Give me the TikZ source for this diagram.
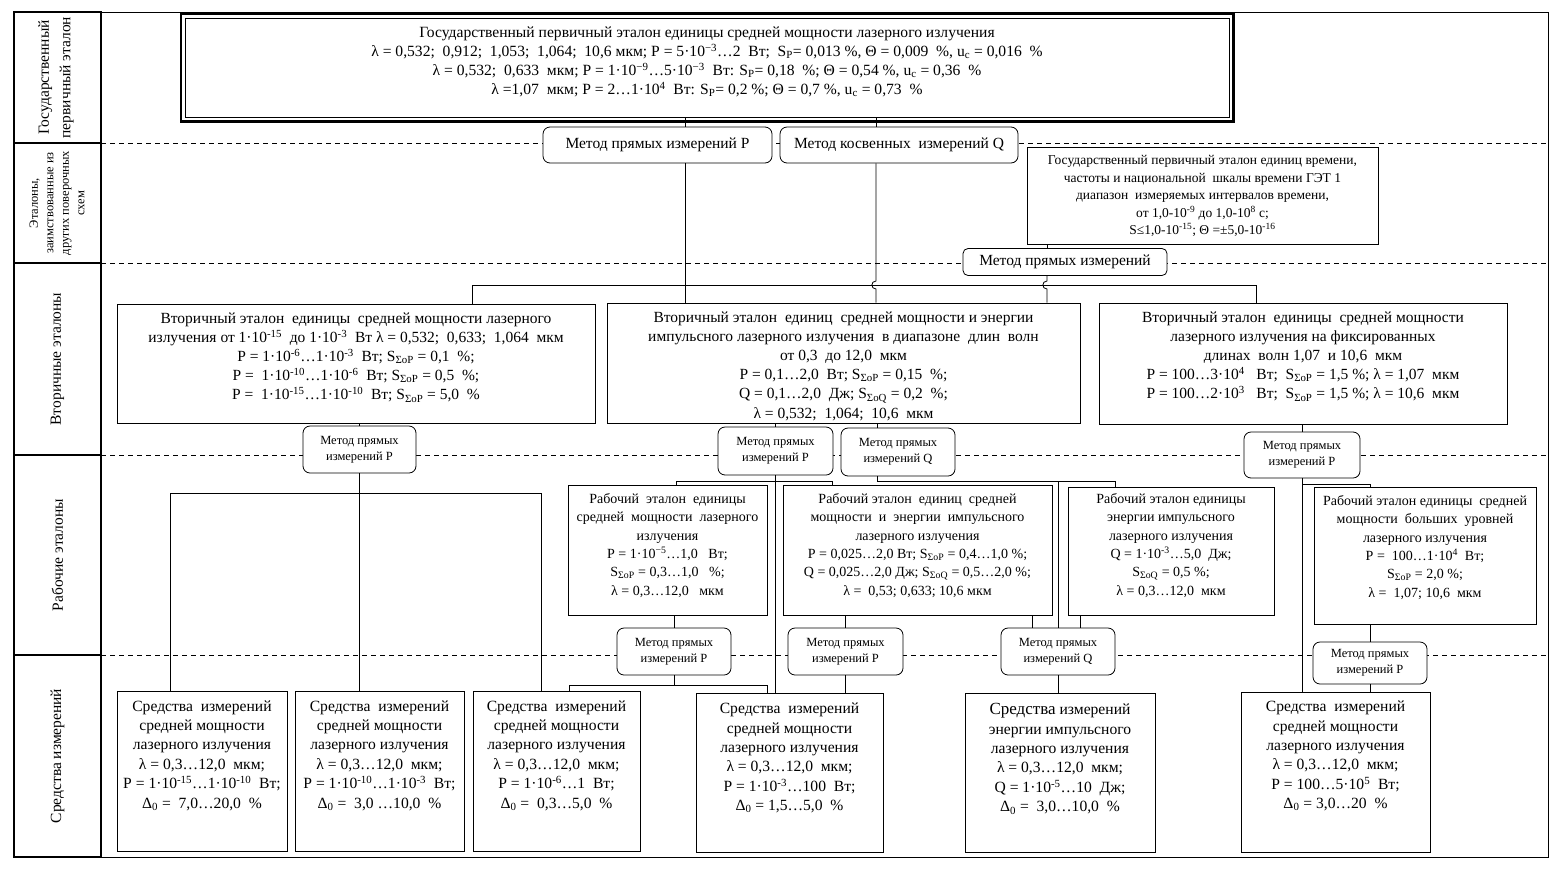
\documentclass[tikz,border=0pt]{standalone}
\usepackage{fontspec}
\setmainfont{Liberation Serif}
\newcommand{\bx}[4]{\parbox[c][#2][t]{#1}{\vspace*{#3}\centering #4\par}}
\newcommand{\supx}[1]{\textsuperscript{#1}}
\newcommand{\sop}{S\textsubscript{ΣoP}}
\newcommand{\soq}{S\textsubscript{ΣoQ}}
\newcommand{\spp}{S\textsubscript{P}}
\newcommand{\uc}{u\textsubscript{c}}
\newcommand{\dz}{Δ\textsubscript{0}}
\begin{document}
\begin{tikzpicture}[x=1pt,y=-1pt,
  every node/.style={inner sep=0pt},
  box/.style={draw, fill=white, line width=0.8pt},
  meth/.style={draw, fill=white, rounded corners=7pt, line width=0.8pt, align=center},
  conn/.style={line width=0.8pt},
  sep/.style={dash pattern=on 5pt off 4pt, line width=0.7pt},
  fT/.style={font=\fontsize{15.6}{19}\selectfont},
  fA/.style={font=\fontsize{15.6}{19.4}\selectfont},
  fB/.style={font=\fontsize{15.5}{19.2}\selectfont},
  fW/.style={font=\fontsize{14}{18.3}\selectfont},
  fG/.style={font=\fontsize{13.5}{17.5}\selectfont},
  fM/.style={font=\fontsize{12.5}{16}\selectfont},
  fL/.style={font=\fontsize{15.5}{21.5}\selectfont},
  fS/.style={font=\fontsize{12.5}{15.5}\selectfont},
]
\useasboundingbox (0,0) rectangle (1557,876);
\fill[white] (0,0) rectangle (1557,876);

% frame and left column
\draw[line width=0.8pt] (14,12) rectangle (1548,857);
\draw[sep] (101,143) -- (1548,143);
\draw[sep] (101,263) -- (1548,263);
\draw[sep] (101,455) -- (1548,455);
\draw[sep] (101,655) -- (1548,655);
\draw[line width=1.6pt] (14,12) rectangle (101,857);
\draw[line width=1.2pt] (14,143) -- (101,143);
\draw[line width=1.2pt] (14,263) -- (101,263);
\draw[line width=1.2pt] (14,455) -- (101,455);
\draw[line width=1.2pt] (14,655) -- (101,655);
\node[rotate=90, align=center, fL] (lab1) at (56,77.5) {Государственный\\первичный эталон};
\node[rotate=90, align=center, fS] (lab2) at (57,203) {Эталоны,\\заимствованные из\\других поверочных\\схем};
\node[rotate=90, fL] (lab3) at (57.5,359) {Вторичные эталоны};
\node[rotate=90, fL] (lab4) at (57.5,555) {Рабочие эталоны};
\node[rotate=90, fL] (lab5) at (57.5,756) {Средства измерений};

% top box
\node[box, fT] (top) at (707,67.5) {\bx{1044pt}{99pt}{9pt}{Государственный первичный эталон единицы средней мощности лазерного излучения\\
λ = 0,532;\ \ 0,912;\ \ 1,053;\ \ 1,064;\ \ 10,6 мкм; P = 5·10\supx{−3}…2\ \ Вт;\ \ \spp= 0,013 \%, Θ = 0,009\ \ \%, \uc{} = 0,016\ \ \%\\
λ = 0,532;\ \ 0,633\ \ мкм; P = 1·10\supx{−9}…5·10\supx{−3}\ \ Вт: \spp= 0,18\ \ \%; Θ = 0,54 \%, \uc{} = 0,36\ \ \%\\
λ =1,07\ \ мкм; P = 2…1·10\supx{4}\ \ Вт: \spp= 0,2 \%; Θ = 0,7 \%, \uc{} = 0,73\ \ \%}};
\draw[line width=2.2pt] ([xshift=-4pt,yshift=4pt]top.north west) rectangle ([xshift=4pt,yshift=-4pt]top.south east);

% row 2
\node[meth, fB, minimum width=229pt, minimum height=36pt] (mp) at (657.5,145) {Метод прямых измерений P};
\node[meth, fB, minimum width=238pt, minimum height=36pt] (mk) at (899,145) {Метод косвенных\ \ измерений Q};
\node[box, fG] (get) at (1202.5,195.5) {\bx{351pt}{97pt}{8.5pt}{Государственный первичный эталон единиц времени,\\
частоты и национальной\ \ шкалы времени ГЭТ 1\\
диапазон\ \ измеряемых интервалов времени,\\
от 1,0-10\supx{-9} до 1,0-10\supx{8} с;\\
S≤1,0-10\supx{-15}; Θ =±5,0-10\supx{-16}}};
\node[meth, fB, minimum width=204pt, minimum height=27pt, rounded corners=5pt] (mpi) at (1065,262) {Метод прямых измерений};

% secondary
\node[box, fB] (s1) at (356,363.5) {\bx{478pt}{119pt}{8.5pt}{Вторичный эталон\ \ единицы\ \ средней мощности лазерного\\
излучения от 1·10\supx{-15}\ \ до 1·10\supx{-3}\ \ Вт λ = 0,532;\ \ 0,633;\ \ 1,064\ \ мкм\\
P = 1·10\supx{-6}…1·10\supx{-3}\ \ Вт; \sop{} = 0,1\ \ \%;\\
P =\ \ 1·10\supx{-10}…1·10\supx{-6}\ \ Вт; \sop{} = 0,5\ \ \%;\\
P =\ \ 1·10\supx{-15}…1·10\supx{-10}\ \ Вт; \sop{} = 5,0\ \ \%}};
\node[box, fB] (s2) at (843.5,363) {\bx{473pt}{120pt}{8.5pt}{Вторичный эталон\ \ единиц\ \ средней мощности и энергии\\
импульсного лазерного излучения\ \ в диапазоне\ \ длин\ \ волн\\
от 0,3\ \ до 12,0\ \ мкм\\
P = 0,1…2,0\ \ Вт; \sop{} = 0,15\ \ \%;\\
Q = 0,1…2,0\ \ Дж; \soq{} = 0,2\ \ \%;\\
λ = 0,532;\ \ 1,064;\ \ 10,6\ \ мкм}};
\node[box, fB] (s3) at (1303,363.5) {\bx{408pt}{121pt}{8.5pt}{Вторичный эталон\ \ единицы\ \ средней мощности\\
лазерного излучения на фиксированных\\
длинах\ \ волн 1,07\ \ и 10,6\ \ мкм\\
P = 100…3·10\supx{4}\ \ \ Вт;\ \ \sop{} = 1,5 \%; λ = 1,07\ \ мкм\\
P = 100…2·10\supx{3}\ \ \ Вт;\ \ \sop{} = 1,5 \%; λ = 10,6\ \ мкм}};

% methods between secondary and working
\node[meth, fM, minimum width=113pt, minimum height=47pt] (m1) at (359.5,449.5) {Метод прямых\\измерений P};
\node[meth, fM, minimum width=115pt, minimum height=48pt] (m2) at (775.5,451) {Метод прямых\\измерений P};
\node[meth, fM, minimum width=114pt, minimum height=48pt] (m3) at (898,452) {Метод прямых\\измерений Q};
\node[meth, fM, minimum width=116pt, minimum height=46pt] (m4) at (1302,455) {Метод прямых\\измерений P};

% working
\node[box, fW] (w1) at (667.5,550) {\bx{199pt}{130pt}{8.5pt}{Рабочий\ \ эталон\ \ единицы\\
средней\ \ мощности\ \ лазерного\\
излучения\\
P = 1·10\supx{−5}…1,0\ \ \ Вт;\\
\sop{} = 0,3…1,0\ \ \ \%;\\
λ = 0,3…12,0\ \ \ мкм}};
\node[box, fW] (w2) at (917.5,550) {\bx{269pt}{130pt}{8.5pt}{Рабочий эталон\ \ единиц\ \ средней\\
мощности\ \ и\ \ энергии\ \ импульсного\\
лазерного излучения\\
P = 0,025…2,0 Вт; \sop{} = 0,4…1,0 \%;\\
Q = 0,025…2,0 Дж; \soq{} = 0,5…2,0 \%;\\
λ =\ \ 0,53; 0,633; 10,6 мкм}};
\node[box, fW] (w3) at (1171,551) {\bx{206pt}{128pt}{6.5pt}{Рабочий эталон единицы\\
энергии импульсного\\
лазерного излучения\\
Q = 1·10\supx{-3}…5,0\ \ Дж;\\
\soq{} = 0,5 \%;\\
λ = 0,3…12,0\ \ мкм}};
\node[box, fW] (w4) at (1425,555.5) {\bx{222pt}{137pt}{8.5pt}{Рабочий эталон единицы\ \ средней\\
мощности\ \ больших\ \ уровней\\
лазерного излучения\\
P =\ \ 100…1·10\supx{4}\ \ Вт;\\
\sop{} = 2,0 \%;\\
λ =\ \ 1,07; 10,6\ \ мкм}};

% methods between working and instruments
\node[meth, fM, minimum width=114pt, minimum height=47pt] (m5) at (674,651.5) {Метод прямых\\измерений P};
\node[meth, fM, minimum width=115pt, minimum height=47pt] (m6) at (845.5,651.5) {Метод прямых\\измерений P};
\node[meth, fM, minimum width=114pt, minimum height=47pt] (m7) at (1058,651.5) {Метод прямых\\измерений Q};
\node[meth, fM, minimum width=114pt, minimum height=42pt] (m8) at (1370,663) {Метод прямых\\измерений P};

% instruments
\node[box, fA] (b1) at (202,771) {\bx{170pt}{160pt}{9.5pt}{Средства\ \ измерений\\
средней мощности\\
лазерного излучения\\
λ = 0,3…12,0\ \ мкм;\\
P = 1·10\supx{-15}…1·10\supx{-10}\ \ Вт;\\
\dz{} =\ \ 7,0…20,0\ \ \%}};
\node[box, fA] (b2) at (379.5,771) {\bx{169pt}{160pt}{9.5pt}{Средства\ \ измерений\\
средней мощности\\
лазерного излучения\\
λ = 0,3…12,0\ \ мкм;\\
P = 1·10\supx{-10}…1·10\supx{-3}\ \ Вт;\\
\dz{} =\ \ 3,0 …10,0\ \ \%}};
\node[box, fA] (b3) at (556.5,771) {\bx{167pt}{160pt}{9.5pt}{Средства\ \ измерений\\
средней мощности\\
лазерного излучения\\
λ = 0,3…12,0\ \ мкм;\\
P = 1·10\supx{-6}…1\ \ Вт;\\
\dz{} =\ \ 0,3…5,0\ \ \%}};
\node[box, fA] (b4) at (789.5,772.5) {\bx{187pt}{159pt}{10pt}{Средства\ \ измерений\\
средней мощности\\
лазерного излучения\\
λ = 0,3…12,0\ \ мкм;\\
P = 1·10\supx{-3}…100\ \ Вт;\\
\dz{} = 1,5…5,0\ \ \%}};
\node[box, fA] (b5) at (1060,772.5) {\bx{190pt}{159pt}{10.5pt}{{\fontsize{17}{19.4}\selectfont Средства} измерений\\
энергии импульсного\\
лазерного излучения\\
λ = 0,3…12,0\ \ мкм;\\
Q = 1·10\supx{-5}…10\ \ Дж;\\
\dz{} =\ \ 3,0…10,0\ \ \%}};
\node[box, fA] (b6) at (1335.5,772) {\bx{189pt}{160pt}{9pt}{Средства\ \ измерений\\
средней мощности\\
лазерного излучения\\
λ = 0,3…12,0\ \ мкм;\\
P = 100…5·10\supx{5}\ \ Вт;\\
\dz{} = 3,0…20\ \ \%}};

% ---- connectors ----
\coordinate (xa) at (685,0);
\coordinate (xb) at (876,0);
\coordinate (xc) at (1047,0);
\coordinate (xd) at (877,0);
\coordinate (xe) at (1032,0);
\coordinate (xf) at (1080,0);
\coordinate (xg) at (1370,0);
\coordinate (busL) at (472,285);
\coordinate (busR) at (1256,285);
\coordinate (b13L) at (170,493);
\coordinate (b13R) at (541,493);
\coordinate (wbL) at (676,481);
\coordinate (wbR) at (832,481);
\coordinate (qbL) at (877,481);
\coordinate (qbR) at (1115,481);
\coordinate (pbL) at (569,685);
\coordinate (pbR) at (767,685);
\coordinate (wb4) at (1302,484);

\draw[conn] (top.south -| xa) -- (mp.north -| xa);
\draw[conn] (top.south -| xb) -- (mk.north -| xb);
\draw[conn] (busL) -- (busR);
\draw[conn] (mp.south -| xa) -- (s2.north -| xa);
\draw[conn] (busL) -- (s1.north -| busL);
\draw[conn] (busR) -- (s3.north -| busR);
\draw[conn] (mk.south -| xb) -- (876,281) .. controls (870.5,281) and (870.5,289) .. (876,289) -- (s2.north -| xb);
\draw[conn] (get.south -| xc) -- (mpi.north -| xc);
\draw[conn] (mpi.south -| xc) -- (1047,281) .. controls (1041.5,281) and (1041.5,289) .. (1047,289) -- (s2.north -| xc);

\draw[conn] (s1.south -| m1) -- (m1.north);
\draw[conn] (m1.south) -- (m1.south |- b13L);
\draw[conn] (b13L) -- (b13R);
\draw[conn] (b13L) -- (b1.north -| b13L);
\draw[conn] (m1.south |- b13L) -- (b2.north -| m1.south);
\draw[conn] (b13R) -- (b3.north -| b13R);

\draw[conn] (s2.south -| m2) -- (m2.north);
\draw[conn] (s2.south -| xd) -- (m3.north -| xd);
\draw[conn] (m2.south) -- (b4.north -| m2.south);
\draw[conn] (wbL) -- (wbR);
\draw[conn] (wbL) -- (w1.north -| wbL);
\draw[conn] (wbR) -- (w2.north -| wbR);
\draw[conn] (m3.south -| xd) -- (qbL) -- (qbR) -- (w3.north -| qbR);
\draw[conn] (qbL -| m7) -- (m7.north);

\draw[conn] (w1.south -| m5) -- (m5.north);
\draw[conn] (m5.south) -- (m5.south |- pbL);
\draw[conn] (pbL) -- (pbR);
\draw[conn] (pbL) -- (b3.north -| pbL);
\draw[conn] (pbR) -- (b4.north -| pbR);
\draw[conn] (w2.south -| m6) -- (m6.north);
\draw[conn] (m6.south) -- (b4.north -| m6.south);
\draw[conn] (w2.south -| xe) -- (m7.north -| xe);
\draw[conn] (w3.south -| xf) -- (m7.north -| xf);
\draw[conn] (m7.south) -- (b5.north -| m7.south);

\draw[conn] (s3.south -| m4) -- (m4.north);
\draw[conn] (m4.south) -- (b6.north -| m4.south);
\draw[conn] (wb4) -- (wb4 -| xg) -- (w4.north -| xg);
\draw[conn] (w4.south -| m8) -- (m8.north);
\draw[conn] (m8.south) -- (b6.north -| m8.south);
\end{tikzpicture}
\end{document}
